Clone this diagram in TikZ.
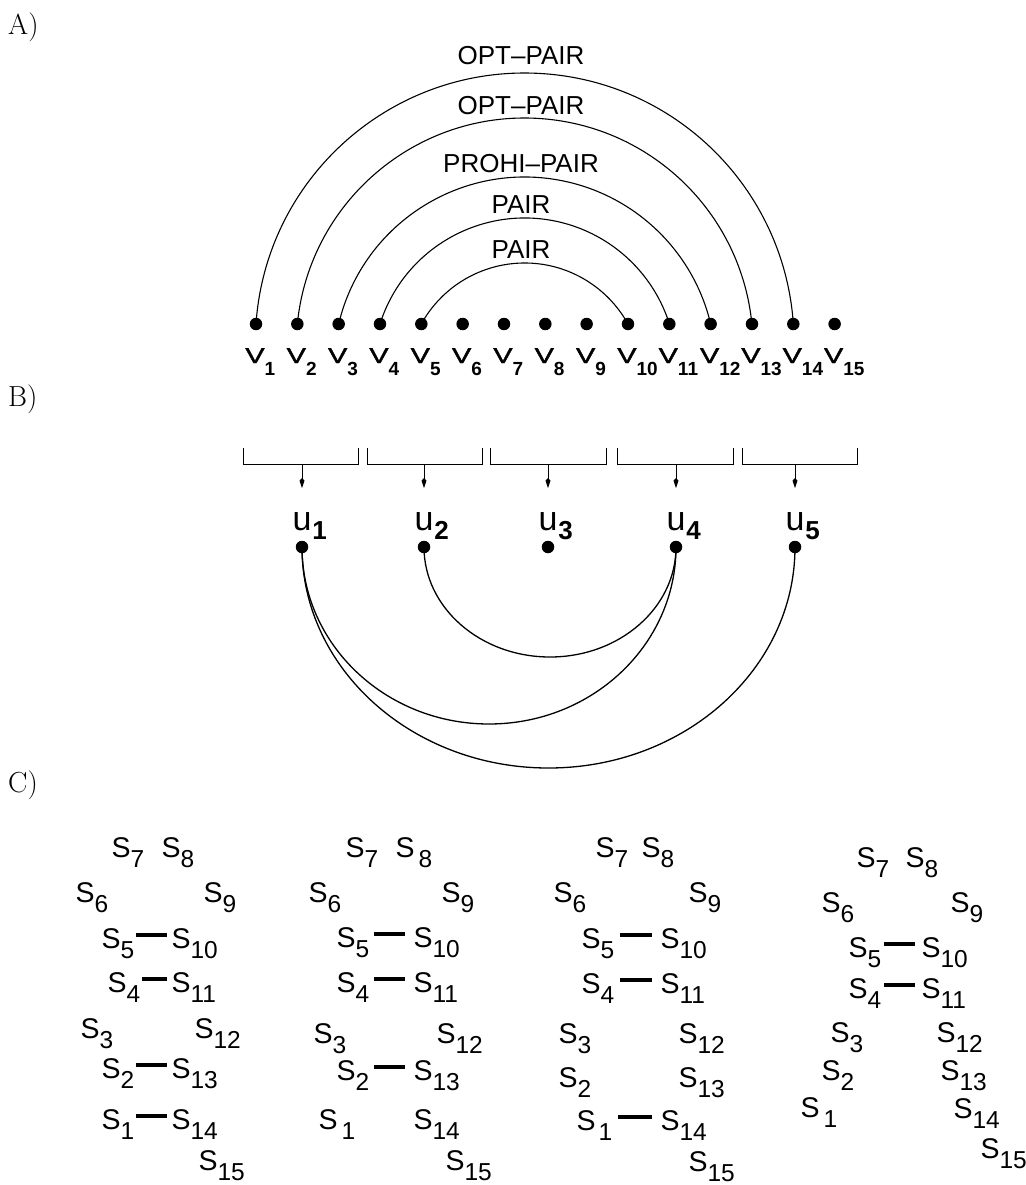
\documentclass[tikz,border=0pt]{standalone}
\usepackage{fontspec}
\usepackage{graphicx}
\usetikzlibrary{arrows.meta}
\newfontfamily\hv{Liberation Sans}
\newfontfamily\hvheavy[FakeBold=1.4]{Liberation Sans}

% vertex label V_i: widened, slightly heavier V, bold index hanging to the right
\newcommand\Vlab[1]{{\hv\fontsize{21.5}{21.5}\selectfont\scalebox{1.35}[1]{\hvheavy V}\makebox[0pt][l]{\raisebox{-12pt}{\fontsize{19}{19}\selectfont\bfseries #1}}}}
% block label u_i
\newcommand\Ulab[1]{{\hv\fontsize{34}{34}\selectfont u\makebox[0pt][l]{\hspace{1pt}\raisebox{-9pt}{\fontsize{26}{26}\selectfont\bfseries #1}}}}
% strand label S_i (optional gap before the index)
\newcommand\Slab[2][0pt]{{\hv\fontsize{28.5}{28.5}\selectfont S\hspace{#1}\raisebox{-10pt}{\fontsize{24.5}{24.5}\selectfont #2}}}

\begin{document}
\begin{tikzpicture}[x=1pt,y=1pt,
  dot/.style={circle,fill=black,inner sep=0pt,minimum size=12.5pt},
  txt/.style={inner sep=0pt,outer sep=0pt},
  arclabel/.style={txt,font=\hv\fontsize{26}{26}\selectfont},
  slab/.style={txt,anchor=base west},
  pairarc/.style={line width=1.1pt},
  linkarc/.style={line width=1.3pt},
  bracket/.style={line width=0.9pt},
  feed/.style={line width=0.9pt,-{Kite[length=10pt,width=5pt]}},
  bond/.style={line width=3.6pt},
  sec/.style={inner sep=0pt,anchor=base west,font=\fontsize{29}{29}\selectfont}]

\useasboundingbox (0,0) rectangle (1025,-1185);

% section letters
\node[sec] (secA) at (8,-35) {A)};
\node[sec] (secB) at (8,-406) {B)};
\node[sec] (secC) at (8,-792) {C)};

% ---------- A: sequence of vertices with nested pair arcs ----------
\foreach \i in {1,...,15} {
  \pgfmathsetmacro\xx{256+(\i-1)*41.33}
  \node[dot] (v\i) at (\xx,-324) {};
  \node[txt,anchor=base] (lv\i) at (\xx-1,-363) {\Vlab{\i}};
}
\draw[pairarc] (v1.center) arc[start angle=176.10, end angle=3.90,  radius=269.3];
\draw[pairarc] (v2.center) arc[start angle=174.37, end angle=5.63,  radius=228.4];
\draw[pairarc] (v3.center) arc[start angle=166.63, end angle=13.37, radius=191.2];
\draw[pairarc] (v4.center) arc[start angle=162.44, end angle=17.56, radius=151.8];
\draw[pairarc] (v5.center) arc[start angle=151.12, end angle=28.88, radius=118.0];

\node[arclabel] (l1) at (521,-56)  {OPT–PAIR};
\node[arclabel] (l2) at (521,-106) {OPT–PAIR};
\node[arclabel] (l3) at (521,-164) {PROHI–PAIR};
\node[arclabel] (l4) at (521,-205) {PAIR};
\node[arclabel] (l5) at (521,-250) {PAIR};

% ---------- B: blocks of three vertices collapsed to u_i ----------
\foreach \i/\xx/\l/\r in {1/302/243/358, 2/424/367/482, 3/548/490/606, 4/676/617/733, 5/795/742/857} {
  \node[dot] (u\i) at (\xx,-547) {};
  \node[txt,anchor=base] (lu\i) at (\xx,-530) {\Ulab{\i}};
  \draw[bracket] (\l,-448) |- (\r,-464) -- (\r,-448);
  \coordinate (b\i) at (\xx,-464);
  \draw[feed,shorten >=24pt] (b\i) -- (lu\i.north);
}
\draw[linkarc] (u2.center) arc[start angle=180, end angle=360, x radius=126,   y radius=110];
\draw[linkarc] (u1.center) arc[start angle=180, end angle=360, x radius=187,   y radius=177];
\draw[linkarc] (u1.center) arc[start angle=180, end angle=360, x radius=246.5, y radius=221];

% ---------- C: four strand foldings ----------
% first folding
\foreach \n/\xx/\yy/\g in {7/111.5/857/0pt, 8/161.5/857/0pt, 6/75.5/902/0pt, 9/203.5/902/0pt,
    5/101.5/948/0pt, 10/171.5/948/0pt, 4/107.5/992/0pt, 11/171.5/992/0pt,
    3/80.5/1038/0pt, 12/194.5/1038/0pt, 2/101.5/1078/0pt, 13/171.5/1078/0pt,
    1/101.5/1129/0pt, 14/171.5/1129/0pt, 15/198.5/1170/0pt}
  \node[slab] (p\n) at (\xx,-\yy) {\Slab[\g]{\n}};
\foreach \a/\b in {5/10, 4/11, 2/13, 1/14}
  \draw[bond,shorten <=2pt,shorten >=4.5pt] ([yshift=13pt]p\a.base east) -- ([yshift=13pt]p\b.base west);

% second folding
\foreach \n/\xx/\yy/\g in {7/345.5/857/0pt, 8/395.5/857/4pt, 6/308.5/902/0pt, 9/441.5/902/0pt,
    5/336.5/947/0pt, 10/413.5/947/0pt, 4/336.5/992/0pt, 11/413.5/992/0pt,
    3/313.5/1043/0pt, 12/436.5/1043/0pt, 2/336.5/1080/0pt, 13/413.5/1080/0pt,
    1/318.5/1129/4pt, 14/413.5/1129/0pt, 15/445.5/1170/0pt}
  \node[slab] (q\n) at (\xx,-\yy) {\Slab[\g]{\n}};
\foreach \a/\b in {5/10, 4/11, 2/13}
  \draw[bond,shorten <=5pt,shorten >=8.5pt] ([yshift=13pt]q\a.base east) -- ([yshift=13pt]q\b.base west);

% third folding
\foreach \n/\xx/\yy/\g in {7/595.5/857/0pt, 8/641.5/857/0pt, 6/553.5/902/0pt, 9/688.5/902/0pt,
    5/581.5/948/0pt, 10/660.5/948/0pt, 4/581.5/993/0pt, 11/660.5/993/0pt,
    3/558.5/1043/0pt, 12/678.5/1043/0pt, 2/558.5/1087/0pt, 13/678.5/1087/0pt,
    1/576.5/1130/3pt, 14/660.5/1130/0pt, 15/688.5/1171/0pt}
  \node[slab] (r\n) at (\xx,-\yy) {\Slab[\g]{\n}};
\foreach \a/\b in {5/10, 4/11, 1/14}
  \draw[bond,shorten <=6pt,shorten >=8.5pt] ([yshift=13pt]r\a.base east) -- ([yshift=13pt]r\b.base west);

% fourth folding
\foreach \n/\xx/\yy/\g in {7/856.5/867/0pt, 8/905.5/867/0pt, 6/821.5/912/0pt, 9/950.5/912/0pt,
    5/848.5/957/0pt, 10/921.5/957/0pt, 4/848.5/998/0pt, 11/921.5/998/0pt,
    3/830.5/1042/0pt, 12/936.5/1042/0pt, 2/821.5/1080/0pt, 13/940.5/1080/0pt,
    1/800.5/1117/4pt, 14/953.5/1118/0pt, 15/980.5/1158/0pt}
  \node[slab] (w\n) at (\xx,-\yy) {\Slab[\g]{\n}};
\foreach \a/\b in {5/10, 4/11}
  \draw[bond,shorten <=3pt,shorten >=6.5pt] ([yshift=13pt]w\a.base east) -- ([yshift=13pt]w\b.base west);

\end{tikzpicture}
\end{document}
